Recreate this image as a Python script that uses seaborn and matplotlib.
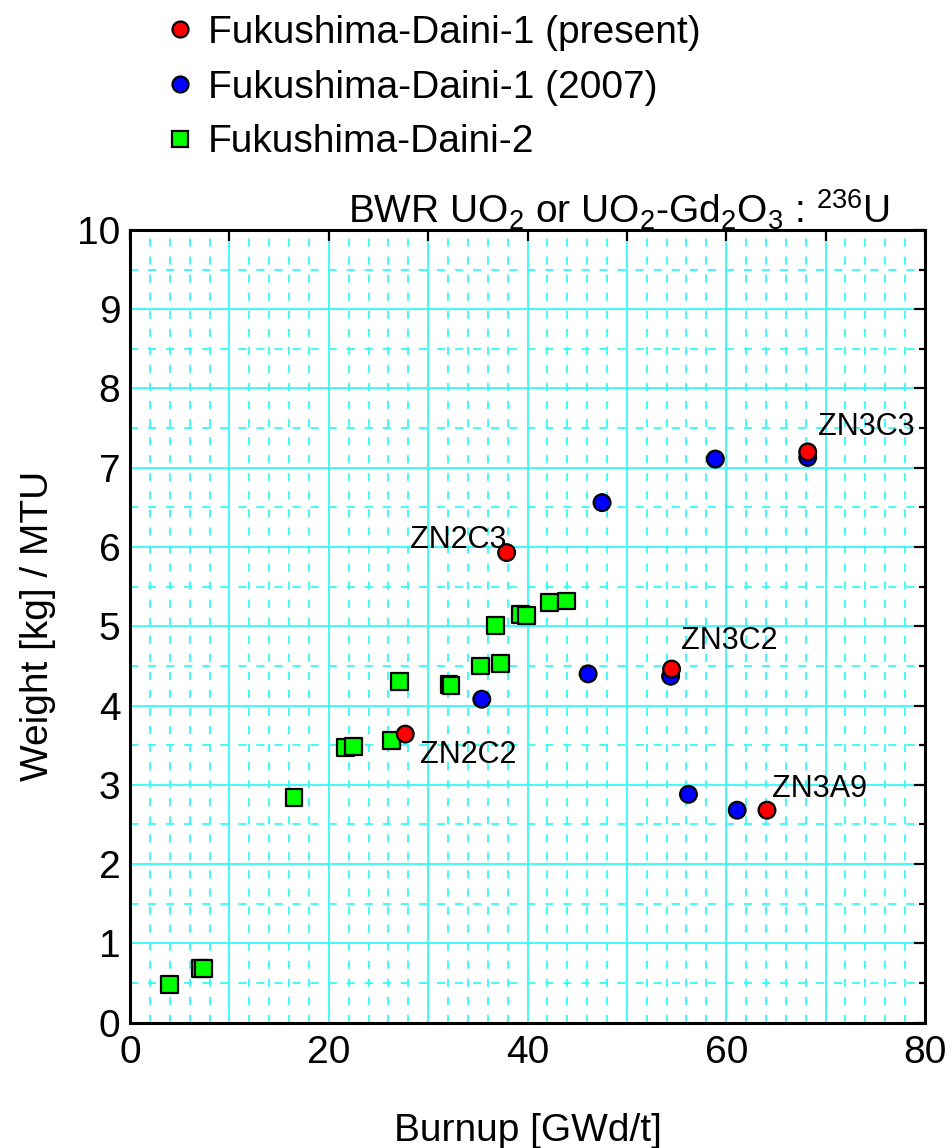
import numpy as np
import pandas as pd
import matplotlib
matplotlib.use("Agg")
import matplotlib.pyplot as plt
from matplotlib.lines import Line2D
from matplotlib.ticker import MultipleLocator, FuncFormatter
import seaborn as sns

# ---- data: 236U weight vs burnup ----
present_names = ["ZN2C3", "ZN2C2", "ZN3C3", "ZN3C2", "ZN3A9"]
present_burnup = [37.9, 27.7, 68.2, 54.5, 64.1]
present_u236 = [5.93, 3.64, 7.20, 4.46, 2.68]

y2007_burnup = [35.4, 46.1, 47.5, 54.4, 56.2, 58.9, 61.1, 68.2]
y2007_u236 = [4.08, 4.40, 6.56, 4.37, 2.88, 7.11, 2.68, 7.13]

daini2_burnup = [4.0, 7.1, 7.4, 16.5, 21.7, 22.5, 26.3, 27.1, 32.1, 32.3,
                 35.3, 37.3, 36.8, 39.3, 39.9, 42.2, 43.9]
daini2_u236 = [0.48, 0.68, 0.68, 2.84, 3.47, 3.48, 3.56, 4.30, 4.27, 4.25,
               4.50, 4.53, 5.01, 5.15, 5.14, 5.30, 5.32]

S_PRESENT = "Fukushima-Daini-1 (present)"
S_2007 = "Fukushima-Daini-1 (2007)"
S_D2 = "Fukushima-Daini-2"

# draw order: squares first, then 2007 circles, present circles on top
df = pd.concat([
    pd.DataFrame({"burnup": daini2_burnup, "u236": daini2_u236, "series": S_D2}),
    pd.DataFrame({"burnup": y2007_burnup, "u236": y2007_u236, "series": S_2007}),
    pd.DataFrame({"burnup": present_burnup, "u236": present_u236, "series": S_PRESENT}),
], ignore_index=True)

palette = {S_PRESENT: "#FF0000", S_2007: "#0000FF", S_D2: "#00FF00"}
markers = {S_PRESENT: "o", S_2007: "o", S_D2: "s"}

sns.set_theme(style="white")
plt.rcParams["font.family"] = ["Liberation Sans", "DejaVu Sans"]
plt.rcParams["mathtext.fontset"] = "custom"
plt.rcParams["mathtext.rm"] = "Liberation Sans"
plt.rcParams["mathtext.it"] = "Liberation Sans:italic"
plt.rcParams["mathtext.bf"] = "Liberation Sans:bold"
plt.rcParams["text.color"] = "black"
plt.rcParams["axes.labelcolor"] = "black"
plt.rcParams["xtick.color"] = "black"
plt.rcParams["ytick.color"] = "black"

FS = 28
GRID = "#33FAFA"
fig = plt.figure(figsize=(9.49, 11.48), dpi=100)
ax = fig.add_axes([0.1370, 0.1092, 0.8377, 0.6905])

sns.scatterplot(data=df, x="burnup", y="u236", hue="series", style="series",
                palette=palette, markers=markers, s=145,
                edgecolor="black", linewidth=1.6, legend=False, ax=ax, zorder=3)

ax.set_xlim(0, 80)
ax.set_ylim(0, 10)

ax.xaxis.set_major_locator(MultipleLocator(10))
ax.xaxis.set_minor_locator(MultipleLocator(2))
ax.xaxis.set_major_formatter(FuncFormatter(lambda v, p: f"{v:.0f}" if round(v) % 20 == 0 else ""))
ax.yaxis.set_major_locator(MultipleLocator(1))
ax.yaxis.set_minor_locator(MultipleLocator(0.5))

ax.set_axisbelow(True)
ax.grid(which="major", color=GRID, linewidth=1.3, linestyle="-")
ax.grid(which="minor", color=GRID, linewidth=1.3, linestyle=(0, (4.5, 5.5)))

for sp in ax.spines.values():
    sp.set_linewidth(2.2)
    sp.set_color("black")

ax.tick_params(which="both", direction="in", top=True, right=True,
               colors="black", width=1.6, labelsize=FS)
ax.tick_params(which="major", length=8)
ax.tick_params(axis="y", which="minor", length=4.3)
ax.tick_params(axis="x", which="minor", length=0)
ax.tick_params(axis="x", which="major", pad=9)
ax.tick_params(axis="y", which="major", pad=7)

ax.set_xlabel("Burnup [GWd/t]", fontsize=FS, labelpad=30)
ax.set_ylabel("Weight [kg] / MTU", fontsize=FS, labelpad=15)

ax.annotate(r"BWR UO$_2$ or UO$_2$-Gd$_2$O$_3$ : $^{236}$U",
            xy=(0.956, 1.0), xycoords="axes fraction",
            xytext=(0, 4.7), textcoords="offset points",
            ha="right", va="baseline", fontsize=FS)

# sample labels next to the present measurements
label_offsets = {"ZN2C3": (0, 3.6, "right"), "ZN2C2": (10.8, -20.7, "left"),
                 "ZN3C3": (7.2, 12.2, "left"), "ZN3C2": (6.5, 14.4, "left"),
                 "ZN3A9": (3.6, 9.4, "left")}
for name, bx, wy in zip(present_names, present_burnup, present_u236):
    dx, dy, ha = label_offsets[name]
    ax.annotate(name, xy=(bx, wy), xytext=(dx, dy), textcoords="offset points",
                ha=ha, va="baseline", fontsize=22, zorder=4)

handles = [
    Line2D([], [], ls="none", marker="o", markersize=11.5, markerfacecolor=palette[S_PRESENT],
           markeredgecolor="black", markeredgewidth=1.6),
    Line2D([], [], ls="none", marker="o", markersize=11.5, markerfacecolor=palette[S_2007],
           markeredgecolor="black", markeredgewidth=1.6),
    Line2D([], [], ls="none", marker="s", markersize=11.5, markerfacecolor=palette[S_D2],
           markeredgecolor="black", markeredgewidth=1.6),
]
fig.legend(handles, [S_PRESENT, S_2007, S_D2], loc="upper left",
           bbox_to_anchor=(0.1773, 0.987), frameon=False, fontsize=FS,
           borderpad=0, borderaxespad=0, handlelength=0.6, handletextpad=0.42,
           labelspacing=0.48)

fig.savefig("out.png", dpi=100)
